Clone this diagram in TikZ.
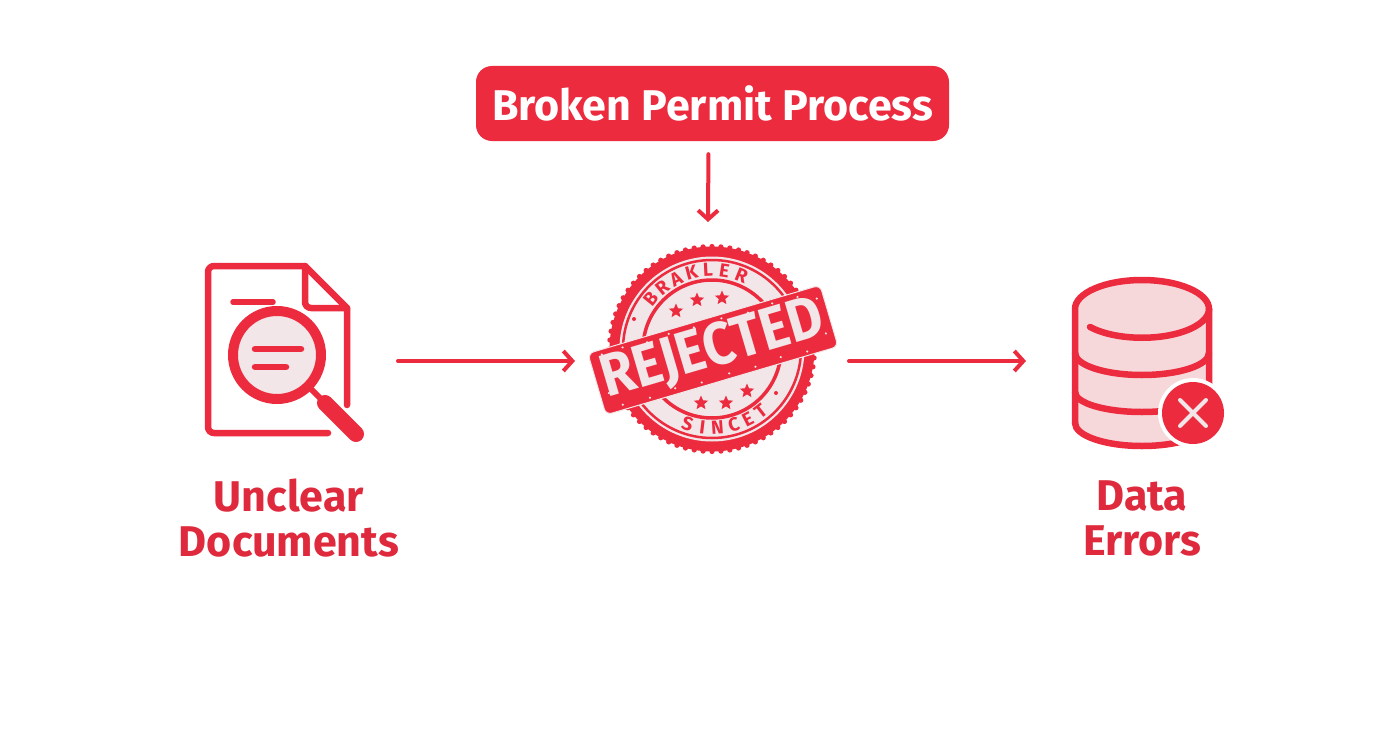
\documentclass[tikz,border=0pt]{standalone}
\usepackage{fontspec}
\setmainfont{Fira Sans}
\usetikzlibrary{arrows.meta}
\usetikzlibrary{shapes.geometric}

\definecolor{alertred}{HTML}{EC2B3F}
\definecolor{labelred}{HTML}{DF2A3D}
\definecolor{palepink}{HTML}{F6D8DB}
\definecolor{palegrey}{HTML}{F2E6E8}

\begin{document}
\begin{tikzpicture}[x=1pt, y=1pt, yscale=-1]

\useasboundingbox (0, 0) rectangle (1392, 752);

\tikzstyle{flow line} = [line width=4pt, alertred, line cap=round, -{Straight Barb[length=9pt, width=20pt, line width=4pt]}]
\tikzstyle{icon line} = [line width=6.5pt, alertred, line cap=round, line join=round]
\tikzstyle{anchor box} = [shape=rectangle, inner sep=0pt, outer sep=0pt]
\tikzstyle{caption} = [labelred, align=center, font=\fontsize{43}{45}\selectfont\bfseries]

% title

\node (process) [shape=rectangle, rounded corners=16pt, fill=alertred, text=white, minimum width=473pt, minimum height=75pt, font=\fontsize{43}{46}\selectfont\bfseries]
	at (712.5, 103.5) {Broken Permit Process};

% boxes that the connectors end on

\node (docbox) [anchor box, minimum width=200pt, minimum height=190pt] at (298, 361) {};
\node (stampbox) [anchor box, minimum width=274pt, minimum height=278pt] at (712, 361) {};
\node (databox) [anchor box, minimum width=232pt, minimum height=190pt] at (1142, 361) {};

% document with magnifier

\draw [icon line] (328, 433) -- (217, 433) -- (214, 433) to [out=180, in=90] (208, 427) -- (208, 272)
	to [out=-90, in=180] (214, 266) -- (305, 266) -- (347, 308) -- (347, 405);
\draw [icon line] (305, 266) -- (305, 302) to [out=90, in=180] (311, 308) -- (347, 308);
\draw [icon line, line width=5.5pt] (233, 302) -- (273, 302);

\draw [line width=6pt, alertred] (309, 387) -- (328, 406);
\draw [line width=16pt, alertred, line cap=round] (325, 403) -- (356, 434);
\draw [line width=10pt, alertred, fill=palegrey] (277, 355) circle (44);
\draw [icon line] (255, 349) -- (301, 349);
\draw [icon line] (255, 367) -- (286, 367);

% database with the error badge

\def\dbx{1142}
\def\dbrx{67}

\fill [palepink] (\dbx - \dbrx, 309) -- (\dbx - \dbrx, 423) arc [start angle=180, end angle=0, x radius=\dbrx, y radius=23]
	-- (\dbx + \dbrx, 309) arc [start angle=0, end angle=-180, x radius=\dbrx, y radius=29];

\draw [icon line] (\dbx - \dbrx, 423) -- (\dbx - \dbrx, 309) arc [start angle=180, end angle=360, x radius=\dbrx, y radius=29] -- (\dbx + \dbrx, 423);
\draw [icon line] (1090, 327) arc [start angle=141, end angle=0, x radius=\dbrx, y radius=29];
\draw [icon line] (\dbx - \dbrx, 353) arc [start angle=180, end angle=0, x radius=\dbrx, y radius=22];
\draw [icon line] (\dbx - \dbrx, 392) arc [start angle=180, end angle=20, x radius=\dbrx, y radius=20];
\draw [icon line] (\dbx - \dbrx, 423) arc [start angle=180, end angle=0, x radius=\dbrx, y radius=23];

\fill [white] (1193, 413) circle (35);
\fill [alertred] (1193, 413) circle (31);
\draw [line width=4pt, palegrey, line cap=round] (1180, 400) -- (1206, 426);
\draw [line width=4pt, palegrey, line cap=round] (1206, 400) -- (1180, 426);

% stamp

\def\stampx{712}
\def\stampy{349}

\foreach \ang in {0, 5, ..., 355}
	\fill [alertred] ({\stampx + 102.5 * cos(\ang)}, {\stampy + 102.5 * sin(\ang)}) circle (2.6);

\fill [alertred] (\stampx, \stampy) circle (102.5);
\fill [palegrey] (\stampx, \stampy) circle (92.5);
\draw [line width=2.5pt, alertred] (\stampx, \stampy) circle (89);
\draw [line width=3.5pt, alertred] (\stampx, \stampy) circle (69);

\tikzstyle{stamp letter} = [alertred, font=\fontsize{19}{19}\selectfont\bfseries, inner sep=0pt]
\tikzstyle{stamp star} = [shape=star, star points=5, star point ratio=2.2, fill=alertred, inner sep=0pt, minimum size=15pt]

\foreach \letter/\ang in {B/-51, R/-39, A/-27, K/-15, L/-3, E/9, R/22}
	\node (brak\ang) [stamp letter, rotate=-\ang]
		at ({\stampx + 79 * sin(\ang)}, {\stampy - 79 * cos(\ang)}) {\letter};

\foreach \letter/\ang in {S/-18, I/-7, N/4, C/16, E/27, T/38}
	\node (since\ang) [stamp letter, rotate=\ang]
		at ({\stampx + 79 * sin(\ang)}, {\stampy + 79 * cos(\ang)}) {\letter};

\foreach \i/\xstar/\ystar in {1/697/300, 2/722/298, 3/676/311, 4/701/403, 5/726/403, 6/747/391}
	\node (star\i) [stamp star] at (\xstar, \ystar) {};

\fill [alertred] (634, 319) circle (2);
\fill [alertred] (776, 393) circle (2);

\node (rejected) [shape=rectangle, rounded corners=6pt, rotate=16.4, fill=alertred, draw=palegrey, line width=1pt, text=palegrey, minimum width=242pt, minimum height=64pt, inner sep=0pt, font=\fontsize{60}{60}\selectfont\bfseries]
	at (713, 350) {\scalebox{0.9}[1]{REJECTED}};

% worn spots on the stamp band

\begin{scope}[shift={(713, 350)}, rotate=-16.4]
	\foreach \u/\v in {-108/-27, -86/-28, -61/-26, -38/-28, -12/-27, 17/-28, 44/-26, 70/-28, 96/-27, 114/-20,
		-112/12, -102/27, -74/28, -47/26, -20/28, 9/27, 36/28, 63/26, 90/28, 113/16}
		\fill [palegrey] (\u, \v) circle (1.2);
\end{scope}

% connectors

\draw [flow line, shorten <=13pt] ([xshift=-4pt]process.south) -- ([xshift=-4pt]stampbox.north);
\draw [flow line] (docbox.east) -- (stampbox.west);
\draw [flow line] (stampbox.east) -- (databox.west);

% captions

\node (unclear) [caption] at (289, 518) {Unclear\\Documents};
\node (errors) [caption] at (1142, 518) {Data\\Errors};

\end{tikzpicture}
\end{document}
